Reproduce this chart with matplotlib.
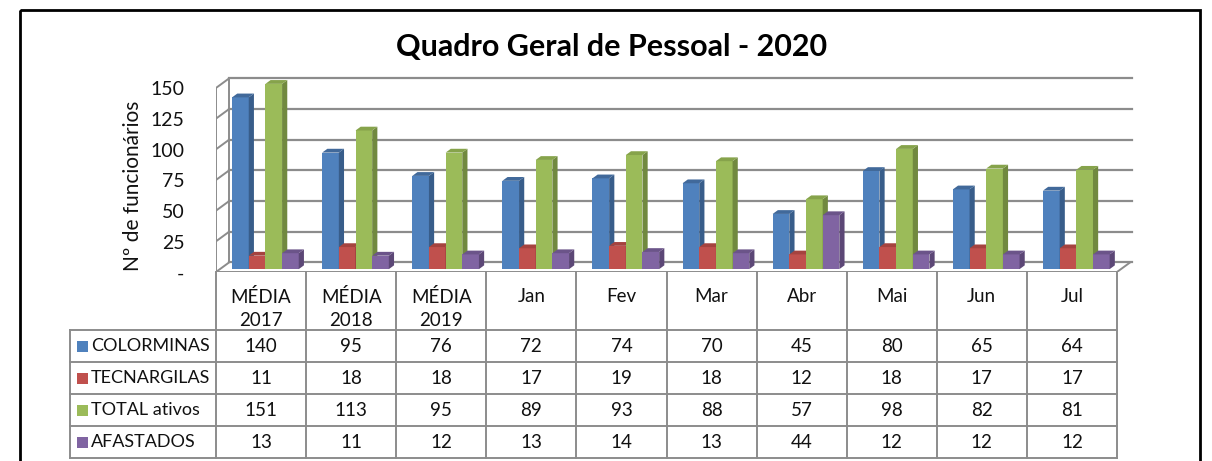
import matplotlib.pyplot as plt
from matplotlib.patches import Polygon, Rectangle

plt.rcParams['font.family'] = ['Lato', 'DejaVu Sans']

# Data
categories = ['MÉDIA\n2017', 'MÉDIA\n2018', 'MÉDIA\n2019', 'Jan', 'Fev', 'Mar',
              'Abr', 'Mai', 'Jun', 'Jul']
series_names = ['COLORMINAS', 'TECNARGILAS', 'TOTAL ativos', 'AFASTADOS']
colorminas = [140, 95, 76, 72, 74, 70, 45, 80, 65, 64]
tecnargilas = [11, 18, 18, 17, 19, 18, 12, 18, 17, 17]
total_ativos = [151, 113, 95, 89, 93, 88, 57, 98, 82, 81]
afastados = [13, 11, 12, 13, 14, 13, 44, 12, 12, 12]
y_ticks = [0, 25, 50, 75, 100, 125, 150]
y_tick_labels = ['-', '25', '50', '75', '100', '125', '150']

series = [colorminas, tecnargilas, total_ativos, afastados]
front_cols = ['#4F81BD', '#C0504D', '#9BBB59', '#8064A2']
side_cols = ['#385D8A', '#8C3836', '#71893F', '#5C4776']
top_cols = ['#41699A', '#A5433F', '#86A34B', '#6B5489']

W, H = 1212, 461
fig = plt.figure(figsize=(W / 100, H / 100), dpi=100)

# pixel geometry of the plot area
CW = 90.1          # px per category
PX_UNIT = 1.227    # px per value unit
x_left, y_floor, y_top = 216, 272, 70
x_right = 1145
ax = fig.add_axes([x_left / W, 1 - y_floor / H, (x_right - x_left) / W, (y_floor - y_top) / H])
ax.set_xlim(0, (x_right - x_left) / CW)
ax.set_ylim(0, (y_floor - y_top) / PX_UNIT)
ax.axis('off')

DX = 13 / CW
DY = 9.5 / PX_UNIT
n = len(categories)
grid_c = '#8C8C8C'

# back wall gridlines and left wall
for v in y_ticks:
    ax.plot([DX, n + DX + 0.02], [v + DY, v + DY], color=grid_c, lw=1.6, zorder=1)
    ax.plot([0, DX], [v, v + DY], color=grid_c, lw=1.4, zorder=1)
ax.plot([0, 0], [0, y_ticks[-1]], color=grid_c, lw=1.4, zorder=1)
ax.plot([DX, DX], [DY, y_ticks[-1] + DY], color=grid_c, lw=1.4, zorder=1)
# floor
ax.plot([0, n], [0, 0], color=grid_c, lw=1.4, zorder=1)
ax.plot([n, n + DX], [0, DY], color=grid_c, lw=1.4, zorder=1)

# y tick labels
for v, lab in zip(y_ticks, y_tick_labels):
    ax.text(-0.35, v - 1.5, lab, ha='right', va='center', fontsize=14, color='#111111')

# bars with pseudo-3D
bw = 0.185
depth_f = 0.3
bar_dx = 0.4 * DX
bar_dy = 0.4 * DY
base_y = depth_f * DY
for k, vals in enumerate(series):
    xs = [i + 0.135 + depth_f * DX + k * bw for i in range(n)]
    ax.bar(xs, vals, width=bw, bottom=base_y, align='edge', color=front_cols[k],
           edgecolor='none', zorder=3 + k * 0.1)
    for x, v in zip(xs, vals):
        top = base_y + v
        side = Polygon([(x + bw, base_y), (x + bw + bar_dx, base_y + bar_dy),
                        (x + bw + bar_dx, top + bar_dy), (x + bw, top)],
                       closed=True, facecolor=side_cols[k], edgecolor='none', zorder=3 + k * 0.1)
        lid = Polygon([(x, top), (x + bw, top), (x + bw + bar_dx, top + bar_dy),
                       (x + bar_dx, top + bar_dy)],
                      closed=True, facecolor=top_cols[k], edgecolor='none', zorder=3 + k * 0.1)
        ax.add_patch(side)
        ax.add_patch(lid)

# overlay in pixel coordinates for title, frame and data table
ov = fig.add_axes([0, 0, 1, 1], zorder=-1)
ov.set_xlim(0, W)
ov.set_ylim(H, 0)
ov.axis('off')

ov.add_patch(Rectangle((20, 10), 1180, 470, fill=False, edgecolor='black', lw=2))
ov.text(612, 47, 'Quadro Geral de Pessoal - 2020', ha='center', va='center',
        fontsize=22, fontweight='bold')
ov.text(133, 186, 'Nº de funcionários', ha='center', va='center', rotation=90,
        fontsize=15, color='#111111')

tab_c = '#8C8C8C'
col_x = [x_left + i * CW for i in range(n + 1)]
row_y = [272, 330, 362, 394, 426, 458]
leg_left = 70
# horizontal lines
ov.plot([col_x[0], col_x[-1]], [row_y[1], row_y[1]], color=tab_c, lw=1.4)
ov.plot([leg_left, col_x[0]], [row_y[1], row_y[1]], color=tab_c, lw=1.4)
for y in row_y[2:]:
    ov.plot([leg_left, col_x[-1]], [y, y], color=tab_c, lw=1.4)
# vertical lines
for x in col_x:
    ov.plot([x, x], [row_y[0], row_y[-1]], color=tab_c, lw=1.4)
ov.plot([leg_left, leg_left], [row_y[1], row_y[-1]], color=tab_c, lw=1.4)

# header
for i, cat in enumerate(categories):
    ov.text(col_x[i] + CW / 2, 288, cat, ha='center', va='top', fontsize=13.5,
            linespacing=1.45, color='#111111')

# rows
for r, (name, vals) in enumerate(zip(series_names, series)):
    yc = (row_y[r + 1] + row_y[r + 2]) / 2
    ov.add_patch(Rectangle((77, yc - 5.5), 11, 11, facecolor=front_cols[r], edgecolor='none'))
    ov.text(91, yc, name, ha='left', va='center', fontsize=13, color='#111111')
    for i, v in enumerate(vals):
        ov.text(col_x[i] + CW / 2, yc, str(v), ha='center', va='center', fontsize=13.5,
                color='#111111')

fig.savefig('out.png', dpi=100)
